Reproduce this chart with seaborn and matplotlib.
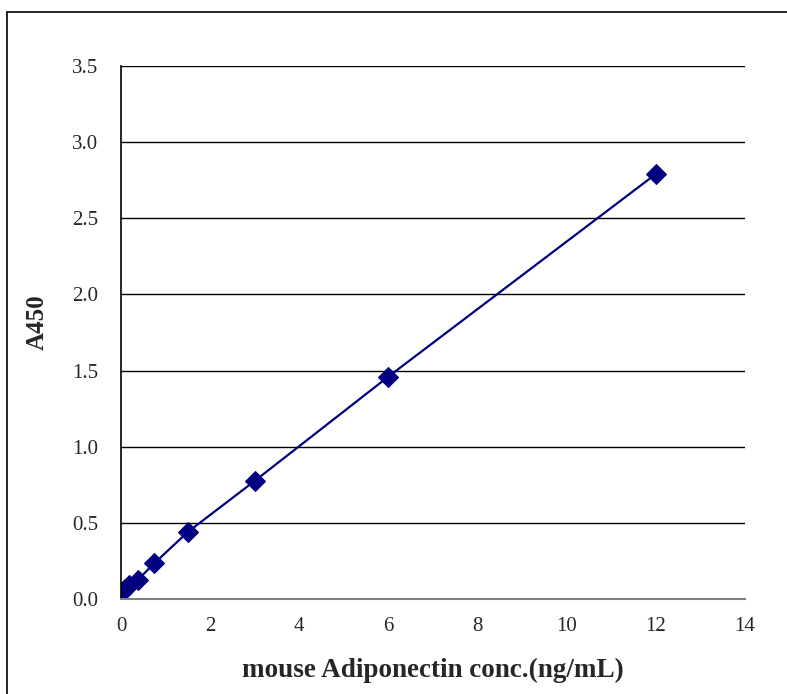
import matplotlib.pyplot as plt
import seaborn as sns
import pandas as pd
from matplotlib.lines import Line2D

# Standard curve readings (concentration vs absorbance)
conc = [0, 0.09375, 0.1875, 0.375, 0.75, 1.5, 3, 6, 12]
a450 = [0.04, 0.065, 0.09, 0.125, 0.235, 0.44, 0.775, 1.46, 2.79]
x_ticks = [0, 2, 4, 6, 8, 10, 12, 14]
y_ticks = [0.0, 0.5, 1.0, 1.5, 2.0, 2.5, 3.0, 3.5]

df = pd.DataFrame({'conc': conc, 'A450': a450})

sns.set_style('white')
plt.rcParams['font.family'] = ['Liberation Serif', 'DejaVu Serif']

fig = plt.figure(figsize=(7.87, 6.94), dpi=100)
ax = fig.add_axes([0.1537, 0.1369, 0.7929, 0.7682])

sns.lineplot(data=df, x='conc', y='A450', ax=ax, color='#000080',
             linewidth=1.6, marker='D', markersize=10, markeredgecolor='#000080')

ax.set_xlim(0, 14)
ax.set_ylim(0, 3.5)
ax.set_xticks(x_ticks)
ax.set_yticks(y_ticks)
ax.set_yticklabels([f'{v:.1f}' for v in y_ticks])
ax.yaxis.grid(True, color='black', linewidth=1)
ax.xaxis.grid(False)
ax.set_axisbelow(True)

for side in ['top', 'right']:
    ax.spines[side].set_visible(False)
ax.spines['left'].set_color('black')
ax.spines['bottom'].set_color('#808080')
ax.spines['left'].set_linewidth(1.2)
ax.spines['bottom'].set_linewidth(1.5)

ax.tick_params(axis='x', direction='in', length=5, color='#808080', labelsize=15, pad=13)
ax.tick_params(axis='y', length=0, labelsize=15, pad=16.5)
ax.set_xlabel('mouse Adiponectin conc.(ng/mL)', fontsize=19.5, fontweight='bold')
ax.set_ylabel('A450', fontsize=18, fontweight='bold')
ax.xaxis.set_label_coords(0.5, -0.11)
ax.yaxis.set_label_coords(-0.115, 0.52)

# outer chart frame (top and left edges visible)
fig.add_artist(Line2D([7 / 787, 1], [1 - 12 / 694, 1 - 12 / 694], color='black', linewidth=1.2))
fig.add_artist(Line2D([7 / 787, 7 / 787], [0, 1 - 12 / 694], color='black', linewidth=1.2))

fig.savefig('out.png', dpi=100)
